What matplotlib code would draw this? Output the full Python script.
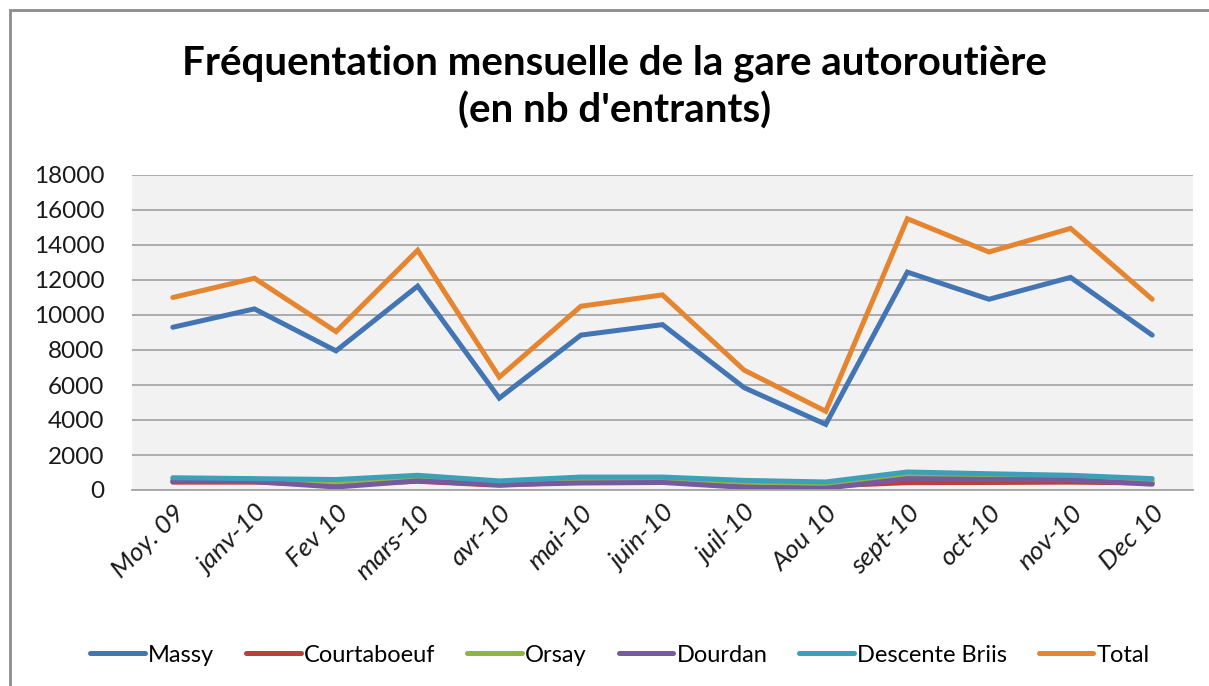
#!/usr/bin/python
# -*- coding: utf-8 -*-

import matplotlib
matplotlib.use('Agg')
import matplotlib.pyplot as plt
from matplotlib.patches import Rectangle

months = ['Moy. 09', 'janv-10', 'Fev 10', 'mars-10', 'avr-10', 'mai-10', 'juin-10',
          'juil-10', 'Aou 10', 'sept-10', 'oct-10', 'nov-10', 'Dec 10']

massy = [9300, 10350, 7950, 11650, 5250, 8850, 9450, 5850, 3750, 12450, 10900, 12150, 8850]
courtaboeuf = [450, 450, 300, 500, 270, 460, 550, 290, 230, 420, 430, 450, 400]
orsay = [600, 550, 450, 700, 420, 620, 640, 450, 350, 840, 760, 700, 500]
dourdan = [500, 480, 170, 520, 300, 400, 430, 150, 100, 650, 600, 580, 330]
briis = [700, 650, 600, 840, 520, 740, 740, 550, 460, 1030, 930, 840, 650]
total = [11000, 12100, 9050, 13700, 6450, 10500, 11150, 6850, 4500, 15500, 13600, 14950, 10900]

series = [
    ('Massy', massy, '#4375B5'),
    ('Courtaboeuf', courtaboeuf, '#B9413D'),
    ('Orsay', orsay, '#8DB547'),
    ('Dourdan', dourdan, '#775A9E'),
    ('Descente Briis', briis, '#3E9FB9'),
    ('Total', total, '#E5852F'),
]

FONT = ['Lato', 'DejaVu Sans']
plt.rcParams['font.family'] = FONT


def plot_frequentation(filename='out.png'):
    fig = plt.figure(figsize=(12.09, 6.86), dpi=100)
    fig.patches.append(Rectangle((10 / 1209, -0.05), 1.2, 1.05 - 10 / 686, transform=fig.transFigure,
                                 fill=False, edgecolor='#8C8C8C', linewidth=2))

    ax = fig.add_axes([132 / 1209, 1 - 490 / 686, (1193 - 132) / 1209, (490 - 175) / 686])
    ax.set_facecolor('#F2F2F2')
    x = list(range(len(months)))
    for name, values, color in series:
        ax.plot(x, values, color=color, linewidth=3.6, label=name, solid_capstyle='round',
                solid_joinstyle='miter')

    ax.set_xlim(-0.5, len(months) - 0.5)
    ax.set_ylim(0, 18000)
    ax.set_yticks(range(0, 18001, 2000))
    ax.yaxis.grid(True, color='#A6A6A6', linewidth=1.3)
    ax.set_axisbelow(True)
    for side in ['left', 'right', 'top']:
        ax.spines[side].set_visible(False)
    ax.spines['bottom'].set_color('#A6A6A6')
    ax.spines['bottom'].set_linewidth(1.3)
    ax.tick_params(axis='both', length=0, labelsize=17.5, colors='#1A1A1A')
    ax.tick_params(axis='y', pad=20)
    ax.set_xticks(x)
    ax.set_xticklabels(months, rotation=45, ha='right', va='top', rotation_mode='anchor',
                       style='italic', fontsize=19)
    ax.tick_params(axis='x', pad=8)

    fig.text(0.508, 1 - 63 / 686, 'Fréquentation mensuelle de la gare autoroutière',
             ha='center', va='center', fontsize=29, fontweight='bold', color='black')
    fig.text(0.508, 1 - 111 / 686, "(en nb d'entrants)",
             ha='center', va='center', fontsize=29, fontweight='bold', color='black')

    fig.legend(loc='center', bbox_to_anchor=(0.513, 1 - 655 / 686), ncol=6, frameon=False,
               fontsize=17, handlelength=2.3, columnspacing=1.35, handletextpad=0.15)

    fig.savefig(filename, dpi=100)
    plt.close(fig)


if __name__ == '__main__':
    plot_frequentation()
